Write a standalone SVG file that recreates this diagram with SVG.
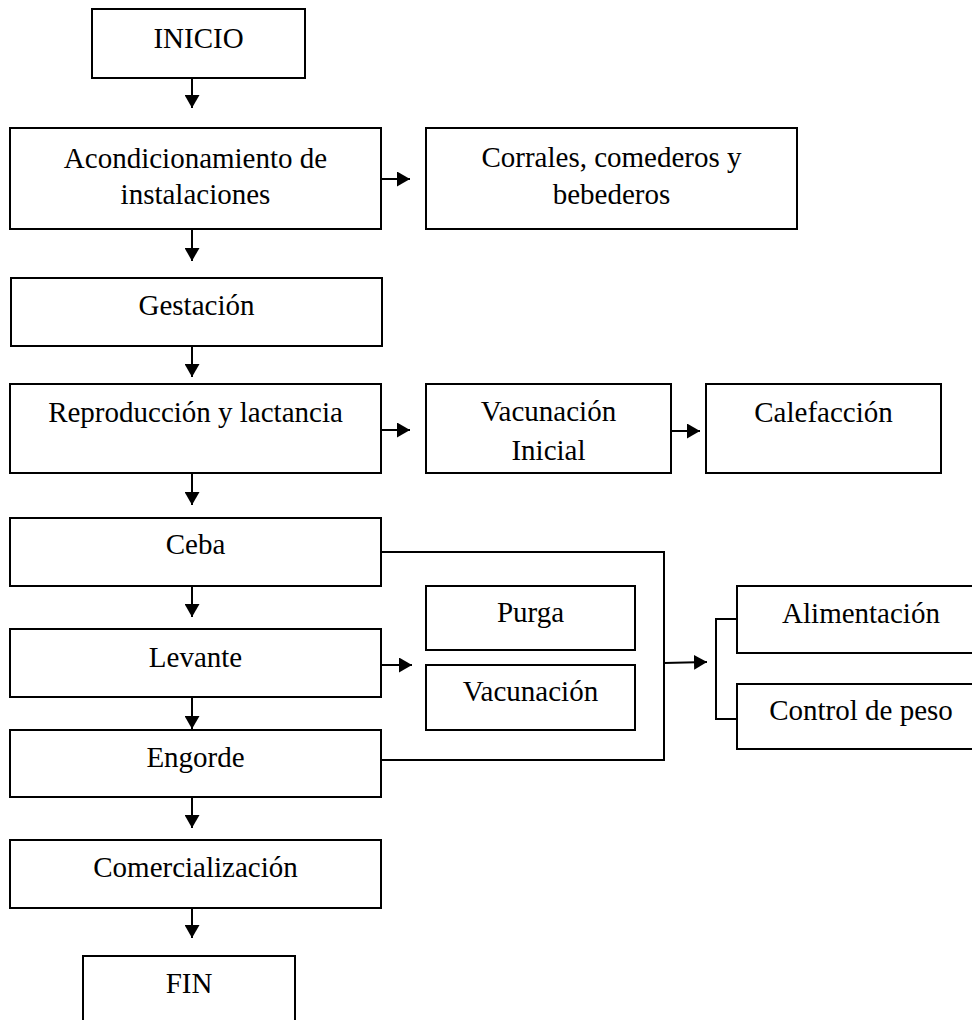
<svg xmlns="http://www.w3.org/2000/svg" width="972" height="1020" viewBox="0 0 972 1020">
  <style>
    .box { fill: #ffffff; stroke: #000000; stroke-width: 2; }
    .lbl { font-family: "Liberation Serif", "Times New Roman", serif; font-size: 29px; fill: #000000; text-anchor: middle; }
    .wire { fill: none; stroke: #000000; stroke-width: 2; }
    .arrow { fill: none; stroke: #000000; stroke-width: 2; marker-end: url(#head); }
  </style>
  <defs>
    <marker id="head" markerUnits="userSpaceOnUse" markerWidth="14" markerHeight="15" refX="13" refY="7.5" orient="auto">
      <path d="M0,0 L13,7.5 L0,15 z" fill="#000000"/>
    </marker>
  </defs>
  <rect width="972" height="1020" fill="#ffffff"/>

  <!-- main column -->
  <g id="inicio">
    <rect class="box" x="92" y="9" width="213" height="69"/>
    <text class="lbl" x="198.5" y="48">INICIO</text>
  </g>
  <g id="acondicionamiento">
    <rect class="box" x="10" y="128" width="371" height="101"/>
    <text class="lbl" x="195.5" y="168">Acondicionamiento de</text>
    <text class="lbl" x="195.5" y="204">instalaciones</text>
  </g>
  <g id="corrales">
    <rect class="box" x="426" y="128" width="371" height="101"/>
    <text class="lbl" x="611.5" y="167">Corrales, comederos y</text>
    <text class="lbl" x="611.5" y="204">bebederos</text>
  </g>
  <g id="gestacion">
    <rect class="box" x="11" y="278" width="371" height="68"/>
    <text class="lbl" x="196.5" y="315">Gestación</text>
  </g>
  <g id="reproduccion">
    <rect class="box" x="10" y="384" width="371" height="89"/>
    <text class="lbl" x="195.5" y="422">Reproducción y lactancia</text>
  </g>
  <g id="vacunacion-inicial">
    <rect class="box" x="426" y="384" width="245" height="89"/>
    <text class="lbl" x="548.5" y="421">Vacunación</text>
    <text class="lbl" x="548.5" y="460">Inicial</text>
  </g>
  <g id="calefaccion">
    <rect class="box" x="706" y="384" width="235" height="89"/>
    <text class="lbl" x="823.5" y="422">Calefacción</text>
  </g>
  <g id="ceba">
    <rect class="box" x="10" y="518" width="371" height="68"/>
    <text class="lbl" x="195.5" y="554">Ceba</text>
  </g>
  <g id="levante">
    <rect class="box" x="10" y="629" width="371" height="68"/>
    <text class="lbl" x="195.5" y="667">Levante</text>
  </g>
  <g id="purga">
    <rect class="box" x="426" y="586" width="209" height="64"/>
    <text class="lbl" x="530.5" y="622">Purga</text>
  </g>
  <g id="vacunacion">
    <rect class="box" x="426" y="665" width="209" height="65"/>
    <text class="lbl" x="530.5" y="701">Vacunación</text>
  </g>
  <g id="engorde">
    <rect class="box" x="10" y="730" width="371" height="67"/>
    <text class="lbl" x="195.5" y="767">Engorde</text>
  </g>
  <g id="alimentacion">
    <rect class="box" x="737" y="586" width="250" height="67"/>
    <text class="lbl" x="861" y="623">Alimentación</text>
  </g>
  <g id="control-peso">
    <rect class="box" x="737" y="684" width="250" height="65"/>
    <text class="lbl" x="861" y="720">Control de peso</text>
  </g>
  <g id="comercializacion">
    <rect class="box" x="10" y="840" width="371" height="68"/>
    <text class="lbl" x="195.5" y="877">Comercialización</text>
  </g>
  <g id="fin">
    <rect class="box" x="83" y="956" width="212" height="90"/>
    <text class="lbl" x="189" y="993">FIN</text>
  </g>

  <g id="connectors">
    <!-- vertical flow -->
    <line class="arrow" x1="192" y1="78" x2="192" y2="108"/>
    <line class="arrow" x1="192" y1="229" x2="192" y2="261"/>
    <line class="arrow" x1="192" y1="346" x2="192" y2="377"/>
    <line class="arrow" x1="192" y1="473" x2="192" y2="505"/>
    <line class="arrow" x1="192" y1="586" x2="192" y2="617"/>
    <line class="arrow" x1="192" y1="697" x2="192" y2="729"/>
    <line class="arrow" x1="192" y1="797" x2="192" y2="828"/>
    <line class="arrow" x1="192" y1="908" x2="192" y2="938"/>
    <!-- side branches -->
    <line class="arrow" x1="381" y1="179" x2="410" y2="179"/>
    <line class="arrow" x1="381" y1="430" x2="410" y2="430"/>
    <line class="arrow" x1="671" y1="431" x2="700" y2="431"/>
    <line class="arrow" x1="381" y1="665" x2="412" y2="665"/>
    <!-- Ceba / Engorde bracket -->
    <polyline class="wire" points="381,552 664,552 664,760 381,760"/>
    <line class="arrow" x1="664" y1="663" x2="707" y2="662"/>
    <!-- Alimentación / Control de peso bracket -->
    <polyline class="wire" points="737,619 716,619 716,719 737,719"/>
  </g>
</svg>
